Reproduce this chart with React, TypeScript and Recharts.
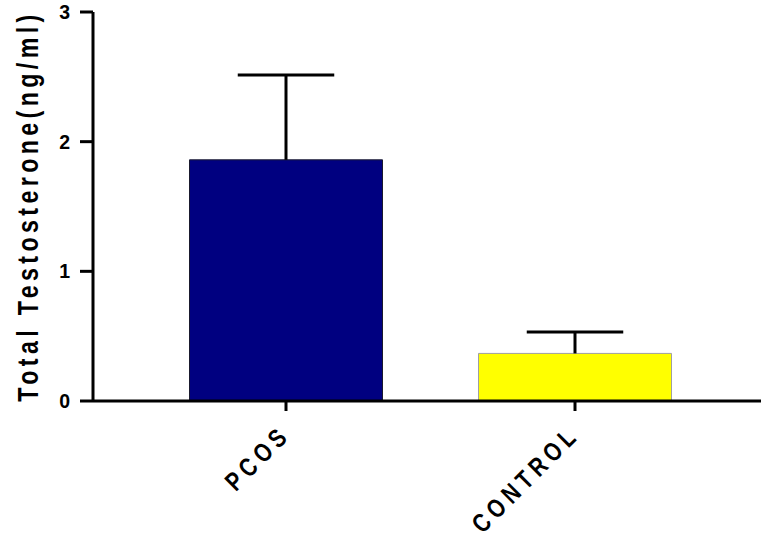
import { Bar, BarChart, Cell, XAxis, YAxis } from "recharts"

const categories = ["PCOS", "CONTROL"]
const meanValues = [1.86, 0.367]
const errorValues = [0.655, 0.165]
const barFills = ["#000080", "#ffff00"]
const barStrokes = ["#1a1a2e", "#a0a0a0"]
const yTicks = [0, 1, 2, 3]

const data = categories.map((name, i) => ({
  name,
  mean: meanValues[i],
  err: errorValues[i],
}))

const FONT = "'Liberation Sans', Arial, sans-serif"

const ErrorWhisker = (props: any) => {
  const { x, y, width, height } = props
  const cx = x + width / 2
  const half = width / 4
  return (
    <g>
      <line x1={cx} y1={y + height} x2={cx} y2={y} stroke="#000" strokeWidth={3} />
      <line x1={cx - half} y1={y} x2={cx + half} y2={y} stroke="#000" strokeWidth={3} />
    </g>
  )
}

const YTick = (props: any) => {
  const { y, payload } = props
  return (
    <text x={70} y={y} dy={7} textAnchor="end" fontFamily={FONT} fontWeight="bold" fontSize={19.5} fill="#000">
      {payload.value}
    </text>
  )
}

const XTick = (props: any) => {
  const { x, y, payload } = props
  return (
    <text
      x={0}
      y={0}
      textAnchor="end"
      transform={`translate(${x + 6}, ${y + 23}) rotate(-45) scale(0.8, 1)`}
      fontFamily={FONT}
      fontWeight="bold"
      fontSize={26}
      style={{ letterSpacing: "6.5px" }}
      fill="#000"
    >
      {payload.value}
    </text>
  )
}

const YLabel = () => (
  <text
    x={0}
    y={0}
    textAnchor="middle"
    transform="translate(38, 206) rotate(-90) scale(0.8, 1)"
    fontFamily={FONT}
    fontWeight="bold"
    fontSize={29}
    style={{ letterSpacing: "5.5px" }}
    fill="#000"
  >
    Total Testosterone(ng/ml)
  </text>
)

export default function App() {
  return (
    <div style={{ position: "absolute", left: 0, top: 0, width: 761, height: 543, background: "#fff" }}>
      <BarChart
        width={761}
        height={543}
        data={data}
        margin={{ top: 12, right: 0, bottom: 0, left: 0 }}
        barSize={193}
      >
        <XAxis
          dataKey="name"
          padding={{ left: 48.5, right: 41.5 }}
          axisLine={{ stroke: "#000", strokeWidth: 3 }}
          tickLine={{ stroke: "#000", strokeWidth: 3 }}
          tickSize={10}
          tick={<XTick />}
          interval={0}
          height={142}
        />
        <YAxis
          width={93}
          domain={[0, 3]}
          ticks={yTicks}
          axisLine={{ stroke: "#000", strokeWidth: 3 }}
          tickLine={{ stroke: "#000", strokeWidth: 3 }}
          tickSize={13}
          tick={<YTick />}
          label={<YLabel />}
        />
        <Bar dataKey="mean" stackId="a" isAnimationActive={false}>
          {data.map((d, i) => (
            <Cell key={d.name} fill={barFills[i]} stroke={barStrokes[i]} strokeWidth={1} />
          ))}
        </Bar>
        <Bar dataKey="err" stackId="a" isAnimationActive={false} shape={<ErrorWhisker />} />
      </BarChart>
    </div>
  )
}
